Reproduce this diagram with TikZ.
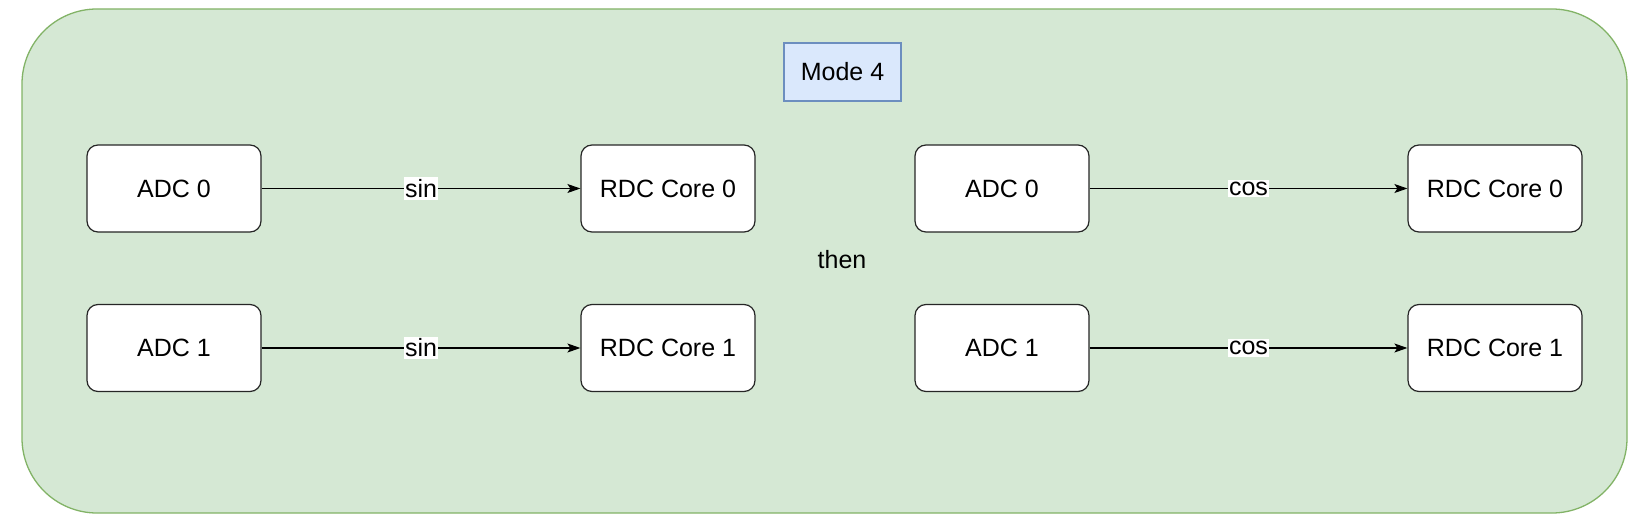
\documentclass[tikz,border=0pt]{standalone}
\usepackage{fontspec}
\setmainfont{Liberation Sans}
\usetikzlibrary{arrows.meta}
\definecolor{grnfill}{HTML}{D5E8D4}
\definecolor{grnline}{HTML}{82B366}
\definecolor{blufill}{HTML}{DAE8FC}
\definecolor{bluline}{HTML}{6C8EBF}
\begin{document}
\begin{tikzpicture}[x=1pt,y=-1pt,
  every node/.style={font=\fontsize{25}{30}\selectfont},
  blk/.style={draw=black!85,fill=white,rounded corners=11pt,line width=1.2pt,minimum width=174pt,minimum height=87pt,inner sep=0pt},
  conn/.style={-{Stealth[length=13pt,width=9pt,inset=3pt]},line width=1.1pt},
  lbl/.style={fill=white,inner xsep=1pt,inner ysep=2pt}]
\useasboundingbox (0,0) rectangle (1642,526);
\draw[fill=grnfill,draw=grnline,line width=1.3pt,rounded corners=75pt] (22,9) rectangle (1627,513);
\node[draw=bluline,fill=blufill,line width=1.3pt,minimum width=117pt,minimum height=58pt,inner sep=0pt] (mode) at (842.5,72) {Mode 4};
\node (then) at (842,260) {then};
\node[blk] (a0l) at (174,188.5) {ADC 0};
\node[blk] (r0l) at (668,188.5) {RDC Core 0};
\node[blk] (a1l) at (174,348) {ADC 1};
\node[blk] (r1l) at (668,348) {RDC Core 1};
\node[blk] (a0r) at (1002,188.5) {ADC 0};
\node[blk] (r0r) at (1495,188.5) {RDC Core 0};
\node[blk] (a1r) at (1002,348) {ADC 1};
\node[blk] (r1r) at (1495,348) {RDC Core 1};
\draw[conn] (a0l) -- node[lbl] {sin} (r0l);
\draw[conn] (a1l) -- node[lbl] {sin} (r1l);
\draw[conn] (a0r) -- node[lbl] {cos} (r0r);
\draw[conn] (a1r) -- node[lbl] {cos} (r1r);
\end{tikzpicture}
\end{document}
